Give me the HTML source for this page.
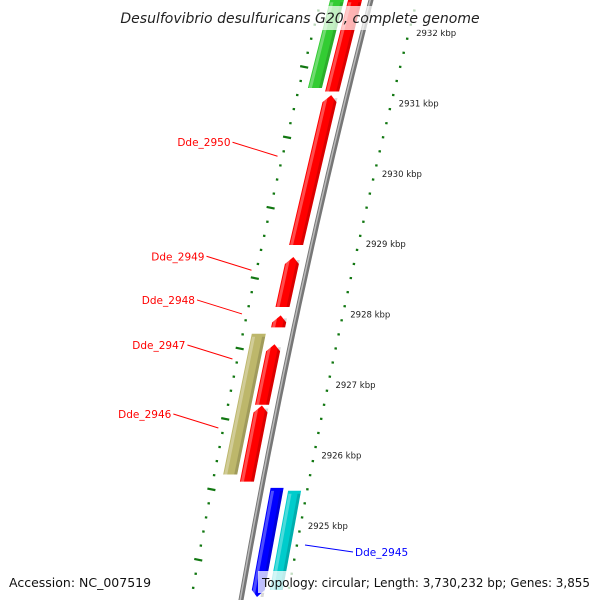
<!DOCTYPE html>
<html><head><meta charset="utf-8"><style>
body{margin:0;background:#fff;overflow:hidden;}
svg{display:block;font-family:"DejaVu Sans","Liberation Sans",sans-serif;}
</style></head><body>
<svg id="map" width="600" height="600" viewBox="0 0 600 600"></svg>
<script>
// ---- data ----
const tickKbp = [2932, 2931, 2930, 2929, 2928, 2927, 2926, 2925];
const tickLabels = ["2932 kbp","2931 kbp","2930 kbp","2929 kbp","2928 kbp","2927 kbp","2926 kbp","2925 kbp"];
const geneNames = ["gene-green","gene-red-top","Dde_2950","Dde_2949","Dde_2948","Dde_2947","Dde_2946","gene-khaki","gene-blue","gene-cyan","gene-blue-2","gene-cyan-2"];
const geneStart = [2932.45, 2932.45, 2931.09, 2928.79, 2927.96, 2927.55, 2926.68, 2927.70, 2925.51, 2925.47, 2923.90, 2923.90];
const geneEnd   = [2931.19, 2931.14, 2928.96, 2928.08, 2927.79, 2926.69, 2925.60, 2925.70, 2923.96, 2924.06, 2923.70, 2923.70];
const geneLane  = [-2, -1, -1, -1, -1, -1, -1, -2, 1, 2, 1, 2];
const geneColor = ["#33cc33","#ff0000","#ff0000","#ff0000","#ff0000","#ff0000","#ff0000","#bdb76b","#0000ff","#00cccc","#0000ff","#00cccc"];
const geneArrow = [0, 0, 1, 1, 1, 1, 1, 0, -1, 0, 0, 0];
const labelNames = ["Dde_2950","Dde_2949","Dde_2948","Dde_2947","Dde_2946"];
const labelKbp = [2930.42, 2928.80, 2928.18, 2927.54, 2926.56];

// ---- axis functions ----
const yOf = k => 31 + (2932 - k) * 70.4;
const base = y => 371 - 0.2567 * y + 6.67e-5 * y * y;
const laneOff = {"-2":[-41,-27], "-1":[-23,-9], "1":[9,22], "2":[27,40]};
const NS = "http://www.w3.org/2000/svg";
const svg = document.getElementById('map');
function mk(t, a, parent) { const e = document.createElementNS(NS, t); for (const k in a) e.setAttribute(k, a[k]); (parent || svg).appendChild(e); return e; }

// tick rings
for (let y = -60; y < 640; y += 14.08) {
  const kb = 2932 - (y - 31) / 70.4;
  const majorR = Math.abs(kb - Math.round(kb)) < 0.01;
  const majorL = Math.abs(Math.abs(kb - Math.round(kb)) - 0.5) < 0.01;
  const xr = base(y) + 46, xl = base(y) - 50;
  const r = mk('line', {x1: xr - (majorR ? 4 : 1.2), y1: y - (majorR ? -0.6 : 0), x2: xr + (majorR ? 4 : 1.2), y2: y + (majorR ? 1.2 : 0.3), stroke: '#117711', 'stroke-width': 2.2});
  
  
  const l = mk('line', {x1: xl - (majorL ? 4 : 1.2), y1: y - (majorL ? 0.6 : 0), x2: xl + (majorL ? 4 : 1.2), y2: y + (majorL ? 1 : 0.3), stroke: '#117711', 'stroke-width': 2.2});
  
  
}
tickKbp.forEach((k, i) => {
  const y = yOf(k);
  const t = mk('text', {x: base(y) + 53, y: y + 5, 'font-size': 8.5, fill: '#222'});
  t.textContent = tickLabels[i];
  
  
});

// backbone
let d = '';
for (let y = -5; y <= 605; y += 10) d += (d ? 'L' : 'M') + base(y).toFixed(1) + ',' + y + ' ';
const bb = mk('path', {d: d, stroke: '#777', 'stroke-width': 5, fill: 'none'});


const bb2 = mk('path', {d: d, stroke: '#bbb', 'stroke-width': 1.5, fill: 'none', transform: 'translate(-0.8,0)'});



// genes
geneStart.forEach((s, i) => {
  const y1 = yOf(s), y2 = yOf(geneEnd[i]);
  const [o1, o2] = laneOff[geneLane[i]];
  const p = (y, o) => (base(y) + o).toFixed(1) + ',' + y.toFixed(1);
  let pts;
  const hl = 7;
  if (geneArrow[i] === 1) {
    const ym = y1 + hl, mid = (o1 + o2) / 2;
    pts = [p(y1, mid), p(ym, o2), p(y2, o2), p(y2, o1), p(ym, o1)];
  } else if (geneArrow[i] === -1) {
    const ym = y2 - hl, mid = (o1 + o2) / 2;
    pts = [p(y1, o1), p(y1, o2), p(ym, o2), p(y2, mid), p(ym, o1)];
  } else {
    pts = [p(y1, o1), p(y1, o2), p(y2, o2), p(y2, o1)];
  }
  const g = mk('polygon', {points: pts.join(' '), fill: geneColor[i]});
  
  
  const hi = mk('polygon', {points: [p(y1 + 3, o1 + 1), p(y1 + 3, o1 + 4), p(y2, o1 + 4), p(y2, o1 + 1)].join(' '), fill: '#fff', opacity: 0.3});
  
  
  const sh = mk('polygon', {points: [p(y1 + 3, o2 - 3), p(y1 + 3, o2), p(y2, o2), p(y2, o2 - 3)].join(' '), fill: '#000', opacity: 0.15});
  
  
});

// gene labels
labelNames.forEach((n, i) => {
  const y = yOf(labelKbp[i]);
  const xe = base(y + 14) - 55;
  const ln = mk('line', {x1: xe - 45, y1: y, x2: xe, y2: y + 14, stroke: '#ff0000', 'stroke-width': 1});
  
  
  const t = mk('text', {x: xe - 47, y: y + 4, 'font-size': 10.5, fill: '#ff0000', 'text-anchor': 'end'});
  t.textContent = n;
  
  
});
const bl = mk('line', {x1: 305, y1: 545, x2: 353, y2: 552, stroke: '#0000ff', 'stroke-width': 1});


const bt = mk('text', {x: 355, y: 556, 'font-size': 10.5, fill: '#0000ff'});
bt.textContent = 'Dde_2945';



// title and footer
const tb = mk('rect', {x: 122, y: 6, width: 356, height: 24, fill: '#fff', opacity: 0.7});


const tt = mk('text', {x: 300, y: 23, 'font-size': 14, 'font-style': 'italic', fill: '#222', 'text-anchor': 'middle'});
tt.textContent = 'Desulfovibrio desulfuricans G20, complete genome';


const a = mk('text', {x: 9, y: 587, 'font-size': 12.5, fill: '#111'});
a.textContent = 'Accession: NC_007519';


const fb = mk('rect', {x: 258, y: 571, width: 342, height: 22, fill: '#fff', opacity: 0.75});


const tp = mk('text', {x: 262, y: 587, 'font-size': 12.5, fill: '#111', textLength: 328, lengthAdjust: 'spacingAndGlyphs'});
tp.textContent = 'Topology: circular; Length: 3,730,232 bp; Genes: 3,855';


</script>
</body></html>
